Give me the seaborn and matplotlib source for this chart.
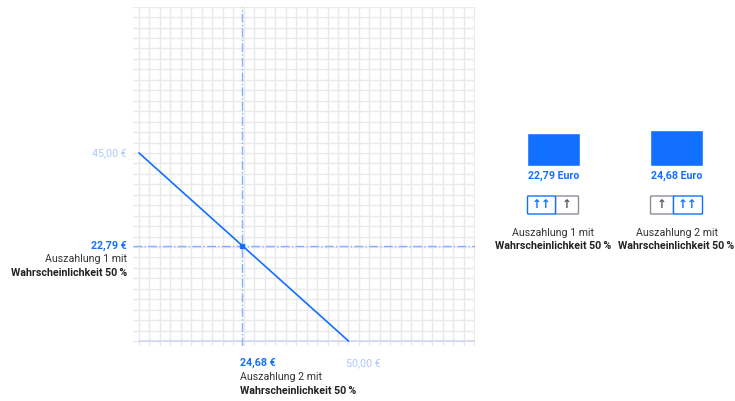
import numpy as np
import pandas as pd
import matplotlib.pyplot as plt
import seaborn as sns
from matplotlib.patches import FancyBboxPatch
from matplotlib.transforms import blended_transform_factory

sns.set_theme(style="white")
plt.rcParams['font.family'] = ['Roboto', 'DejaVu Sans']

# budget line (payout 2 on x, payout 1 on y)
line_x = [0, 50]
line_y = [45, 0]
choice_x = 24.68
choice_y = 22.79
axis_max = 80
grid_step = 2.5

bar_labels = ['Auszahlung 1', 'Auszahlung 2']
bar_values = [22.79, 24.68]
bar_texts = ['22,79 Euro', '24,68 Euro']

BLUE = '#1170ff'
LIGHT = '#a9c9ff'
DASH = '#80b0ff'
GRID = '#e9e9e9'
DARK = '#333333'
PCT = '50\u2009%'
FS = 7.7

W, H = 735, 401
fig = plt.figure(figsize=(W / 100, H / 100), dpi=100)

def fx(px):
    return px / W

def fy(py):
    return 1 - py / H

# ---- main chart
ax = fig.add_axes([fx(133), fy(346), fx(475) - fx(133), fy(6.7) - fy(346)])
ax.set_xlim(-1.43, axis_max + 0.2)
ax.set_ylim(-1.2, axis_max)
ticks = np.arange(0, axis_max + 0.01, grid_step)
ax.set_xticks(ticks)
ax.set_yticks(ticks)
ax.set_xticklabels([])
ax.set_yticklabels([])
ax.tick_params(length=0)
ax.grid(True, color=GRID, linewidth=1.0)
for s in ax.spines.values():
    s.set_visible(False)
ax.plot([0, axis_max + 0.2], [0, 0], color='#d3d8f2', lw=1.2, zorder=2)

ax.axvline(choice_x, color=DASH, lw=1, ls='-.', zorder=3)
ax.axhline(choice_y, color=DASH, lw=1, ls='-.', zorder=3)
df = pd.DataFrame({'x': line_x, 'y': line_y})
sns.lineplot(data=df, x='x', y='y', ax=ax, color=BLUE, lw=1.2, zorder=4)
ax.plot([choice_x], [choice_y], 's', color=BLUE, ms=2.5, zorder=5)
ax.set_xlabel('')
ax.set_ylabel('')

# y labels
ty = blended_transform_factory(fig.transFigure, ax.transData)
ax.text(fx(127), line_y[0], '45,00\u00a0€', transform=ty, ha='right', va='center',
        color=LIGHT, fontsize=FS)
ax.text(fx(127), choice_y, '22,79\u00a0€', transform=ty, ha='right', va='center',
        color=BLUE, fontsize=FS, fontweight='bold')
fig.text(fx(127), fy(259), 'Auszahlung 1 mit', ha='right', va='center', color=DARK, fontsize=FS)
fig.text(fx(127), fy(273), 'Wahrscheinlichkeit ' + PCT, ha='right', va='center',
         color='#222222', fontsize=FS, fontweight='bold')

# x labels
tx = blended_transform_factory(ax.transData, fig.transFigure)
ax.text(line_x[1] - 0.5, fy(363), '50,00\u00a0€', transform=tx, ha='left', va='center',
        color=LIGHT, fontsize=FS)
ax.text(choice_x - 0.5, fy(363), '24,68\u00a0€', transform=tx, ha='left', va='center',
        color=BLUE, fontsize=FS, fontweight='bold')
ax.text(choice_x - 0.5, fy(377), 'Auszahlung 2 mit', transform=tx, ha='left', va='center',
        color=DARK, fontsize=FS)
ax.text(choice_x - 0.5, fy(391), 'Wahrscheinlichkeit ' + PCT, transform=tx, ha='left',
        va='center', color='#222222', fontsize=FS, fontweight='bold')

# ---- bar panel
bx = fig.add_axes([fx(504.3), fy(166), fx(725.7) - fx(504.3), fy(100) - fy(166)])
sns.barplot(x=bar_labels, y=bar_values, ax=bx, color=BLUE, width=0.43, saturation=1)
bx.set_xlim(-0.4, 1.4)
bx.set_ylim(0, 45.6)
bx.axis('off')

tb = blended_transform_factory(bx.transData, fig.transFigure)
u = 1 / 123  # data units per pixel in bar axes
for i, txt in enumerate(bar_texts):
    bx.text(i, fy(176), txt, transform=tb, ha='center', va='center', color=BLUE,
            fontsize=FS, fontweight='bold')
    bx.text(i, fy(233), 'Auszahlung %d mit' % (i + 1), transform=tb, ha='center',
            va='center', color=DARK, fontsize=FS)
    bx.text(i, fy(246), 'Wahrscheinlichkeit ' + PCT, transform=tb, ha='center',
            va='center', color='#222222', fontsize=FS, fontweight='bold')
    # toggle buttons: ↑↑ (selected) and ↑
    if i == 0:
        parts = [(-26, 2, '↑↑', True), (2, 25, '↑', False)]
    else:
        parts = [(-26, -3, '↑', False), (-3, 26, '↑↑', True)]
    for a, b, sym, sel in parts:
        col = BLUE if sel else '#8a9099'
        box = FancyBboxPatch((i + a * u, fy(214)), (b - a) * u, fy(196) - fy(214),
                             boxstyle='round,pad=0,rounding_size=0.004',
                             transform=tb, fc='white', ec=col, lw=1.0,
                             clip_on=False, zorder=3 if sel else 2)
        bx.add_patch(box)
        bx.text(i + (a + b) / 2 * u, fy(205), sym, transform=tb, ha='center',
                va='center', color=BLUE if sel else '#555b63', fontsize=8.5,
                fontweight='bold', family='DejaVu Sans', zorder=4)

fig.savefig('out.png', dpi=100)
